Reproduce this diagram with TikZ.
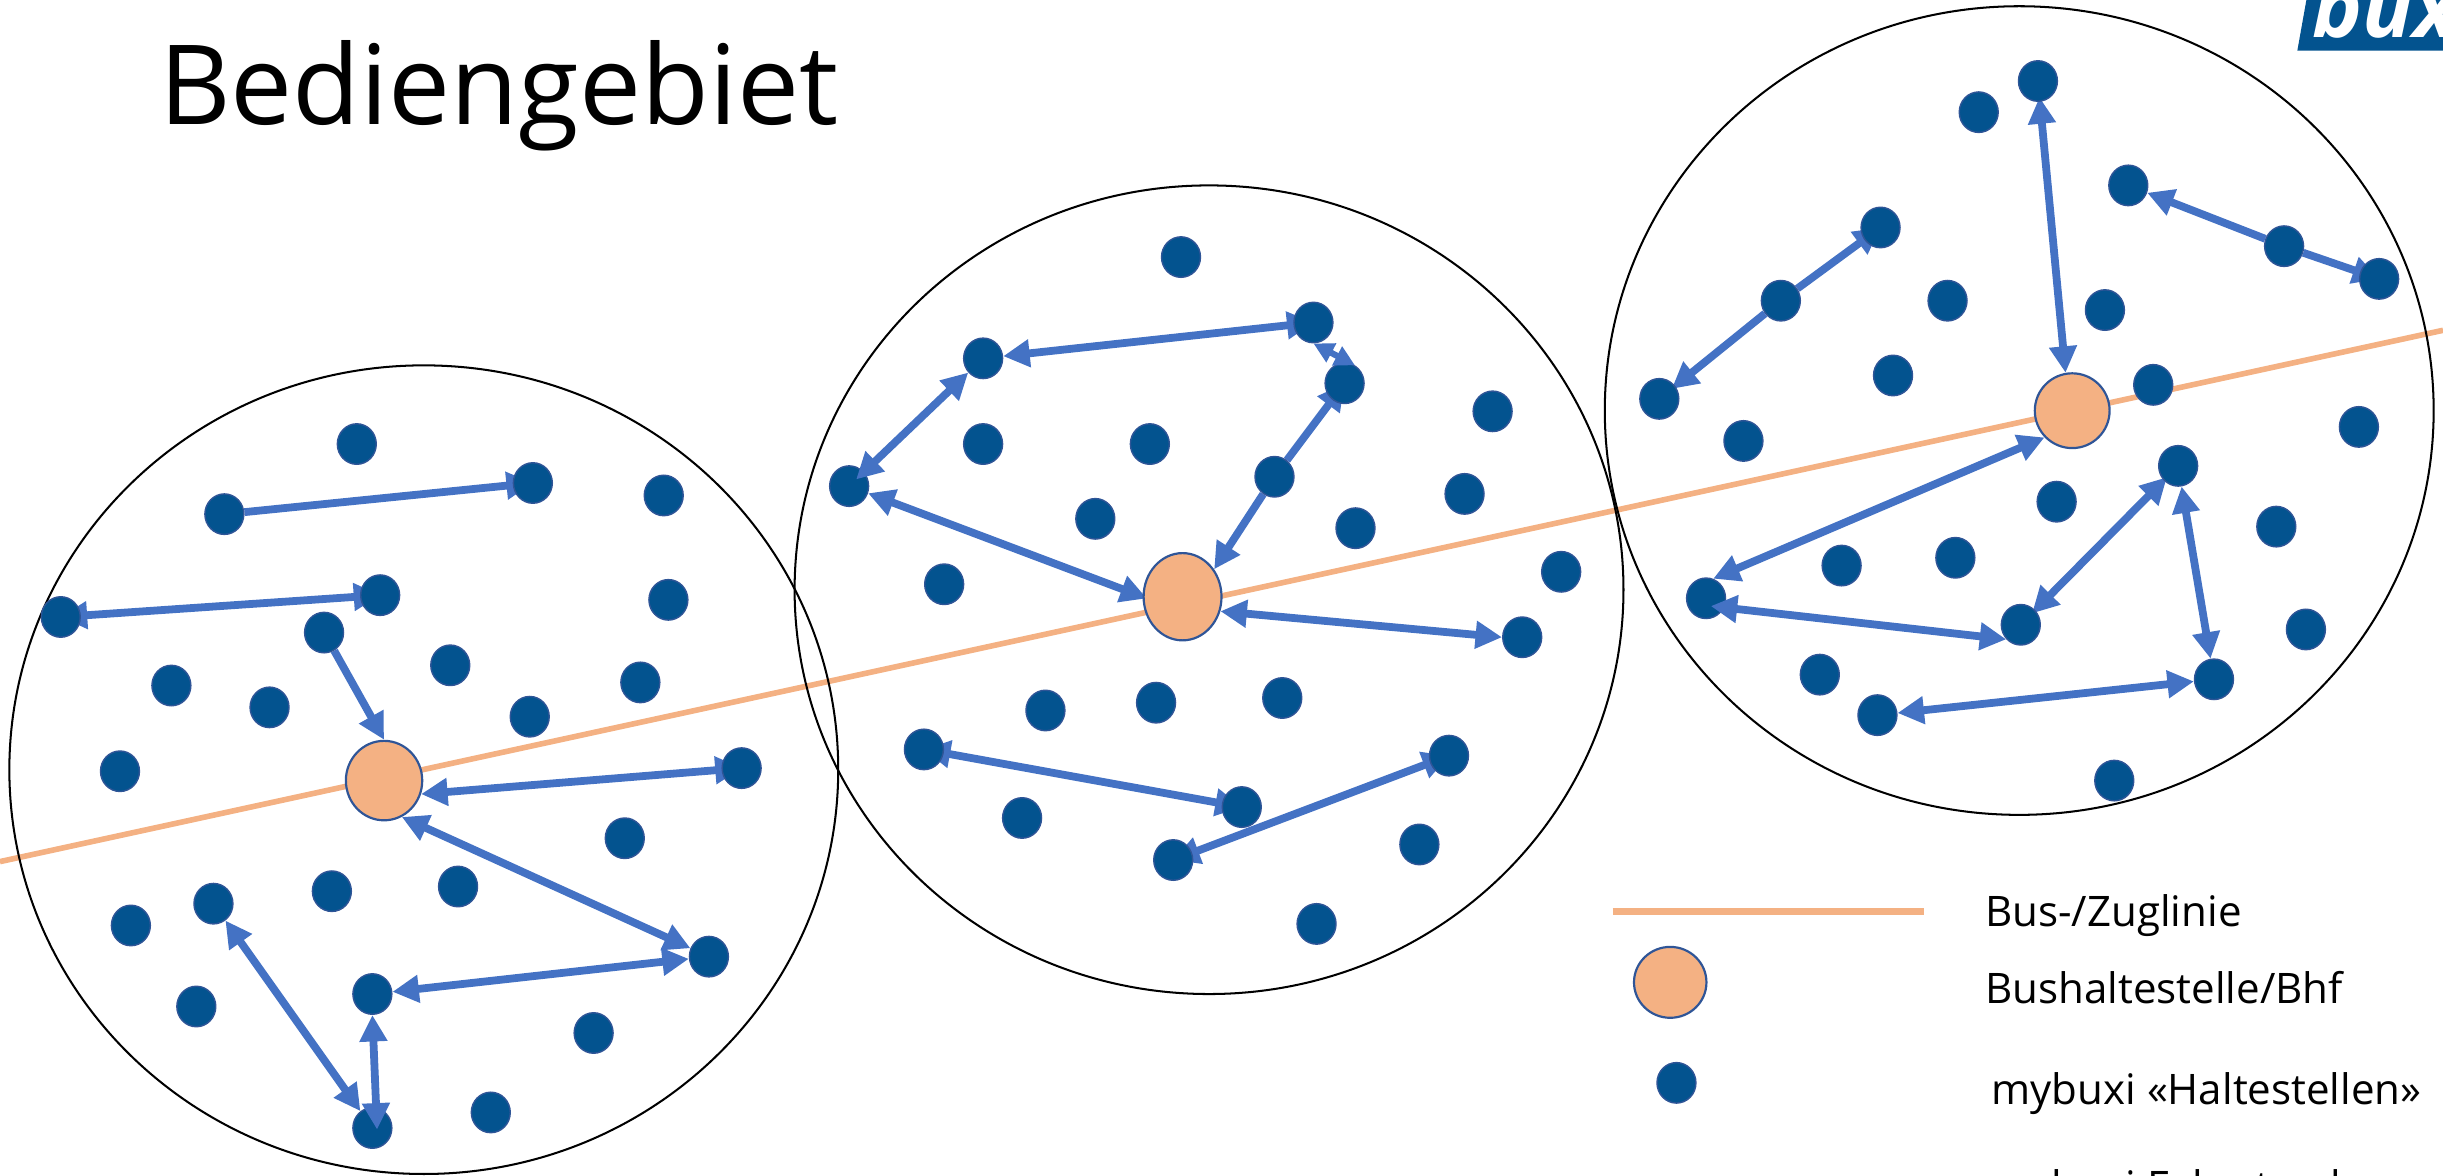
\documentclass[tikz,border=0pt]{standalone}
\usepackage{fontspec}
\setmainfont{Open Sans}
\usetikzlibrary{arrows.meta,shapes.geometric}
\definecolor{dotblue}{HTML}{03538F}
\definecolor{dotedge}{HTML}{2F5597}
\definecolor{arrowblue}{HTML}{4472C4}
\definecolor{stopfill}{HTML}{F4B183}
\pgfdeclarelayer{backdrop}
\pgfdeclarelayer{under}
\pgfsetlayers{backdrop,under,main}
\tikzset{
  x=1pt,y=-1pt,
  hdot/.style={ellipse,fill=dotblue,draw=dotedge,line width=.9pt,minimum width=25pt,minimum height=26pt,inner sep=0pt},
  stopnode/.style={ellipse,fill=stopfill,draw=dotedge,line width=1.4pt,inner sep=0pt},
  area/.style={draw=black,line width=1.3pt},
  rail/.style={draw=stopfill,line width=3.6pt},
  both/.style={draw=arrowblue,line width=5pt,{Triangle[length=17pt,width=17pt]}-{Triangle[length=17pt,width=17pt]}},
  shortboth/.style={draw=arrowblue,line width=4pt,{Triangle[length=13pt,width=13pt]}-{Triangle[length=13pt,width=13pt]}},
  oneway/.style={draw=arrowblue,line width=5pt,-{Triangle[length=17pt,width=17pt]}},
  sinkend/.style={shorten >=-13pt},
  sinkstart/.style={shorten <=-13pt},
  nudgeend/.style={shorten >=-3pt},
  nudgestart/.style={shorten <=-3pt},
  legend/.style={anchor=base west,font=\fontsize{27}{27}\selectfont,inner sep=0pt},
}
\begin{document}
\begin{tikzpicture}
\useasboundingbox (0,0) rectangle (1568,754.2);
\begin{pgfonlayer}{backdrop}
\coordinate (railA) at (0,553);
\coordinate (railB) at (1568,212);
\draw[rail] (railA) -- (railB);
\draw[area] (272,494) ellipse[x radius=266,y radius=259.5];
\draw[area] (776,378.5) ellipse[x radius=266,y radius=259.5];
\draw[area] (1296,263.5) ellipse[x radius=266,y radius=259.5];
\end{pgfonlayer}
% logo
\begin{scope}
\clip (0,0) rectangle (1568,754.2);
\fill[dotblue] (1480.3,0) -- (1474.5,32.5) -- (1568,32.5) -- (1568,0) -- cycle;
\node[text=white,anchor=base west,inner sep=0pt,font=\fontsize{54}{54}\selectfont\bfseries\itshape] (logo) at (1484,24) {buxi};
\end{scope}
% title
\node[anchor=base west,inner sep=0pt,font=\fontsize{71}{71}\selectfont] (title) at (102,80) {Bediengebiet};
% stops
\node[stopnode,minimum width=49pt,minimum height=51pt] (S1) at (246.5,501) {};
\node[stopnode,minimum width=50pt,minimum height=56pt] (S2) at (759,383) {};
\node[stopnode,minimum width=48pt,minimum height=48pt] (S3) at (1330,263.6) {};
% dots, area 1
\foreach \n/\x/\y in {a1/229/285,a2/144/330,a3/342/310,a4/426/318,a5/39/396,a6/244/382,a7/429/385,a8/208/406,a9/110/440,a10/173/454,a11/289/427,a12/340/460,a13/411/438,a14/77/495,a15/476/493,a16/401/538,a17/84/594,a18/137/580,a19/213/572,a20/294/569,a21/455/614,a22/126/646,a23/239/638,a24/381/663,a25/239/724,a26/315/714}
  \node[hdot] (\n) at (\x,\y) {};
% dots, area 2
\foreach \n/\x/\y in {b1/758/165,b2/843/207,b3/631/230,b4/863/246,b5/958/264,b6/631/285,b7/738/285,b8/545/312,b9/818/306,b10/940/317,b11/703/333,b12/870/339,b13/606/375,b14/1002/367,b15/977/409,b16/671/456,b17/742/451,b18/823/448,b19/593/481,b20/930/485,b21/797/518,b22/656/525,b23/753/552,b24/911/542,b25/845/593}
  \node[hdot] (\n) at (\x,\y) {};
% dots, area 3
\foreach \n/\x/\y in {c1/1308/52,c2/1270/72,c3/1366/119,c4/1207/146,c5/1466/158,c6/1527/179,c7/1143/193,c8/1250/193,c9/1351/199,c10/1215/241,c11/1382/247,c12/1065/256,c13/1119/283,c14/1514/274,c15/1398/299,c16/1320/322,c17/1461/338,c18/1182/363,c19/1255/358,c20/1095/384,c21/1297/401,c22/1480/404,c23/1168/433,c24/1421/436,c25/1205/459,c26/1357/501}
  \node[hdot] (\n) at (\x,\y) {};
% connectors whose ends lie behind the dots
\begin{pgfonlayer}{under}
% area 1
\draw[oneway,sinkend] (a2) -- (a3);
\draw[both,sinkstart,sinkend] (a6) -- (a5);
\draw[oneway] (a8) -- (S1.north);
\draw[both,sinkend] (S1.340) -- (a15);
\draw[both] (S1.-64) -- (a21);
\draw[both] (a23) -- (a21);
% area 2
\draw[both,sinkend] (b3) -- (b2);
\draw[oneway,sinkend] (b9) -- (b4);
\draw[oneway] (b9) -- (S2.41);
\draw[both,nudgestart] (S2.west) -- (b8);
\draw[both] (S2.-21) -- (b15.west);
\draw[both,sinkstart,sinkend] (b19) -- (b21);
\draw[both,sinkstart,sinkend] (b23) -- (b20);
% area 3
\draw[both,nudgestart] (c1) -- (S3.100);
\draw[oneway] (c5) -- (c3);
\draw[oneway,sinkend] (c5) -- (c6);
\draw[oneway,sinkend] (c7) -- (c4);
\draw[oneway,nudgeend] (c7) -- (c12);
\draw[both,nudgestart,nudgeend] (c21) -- (c15);
\draw[both] (c15) -- (c24);
\draw[both] (c24) -- (c25);
\end{pgfonlayer}
% connectors whose tips lie over the dots
\draw[both] (a23.south) -- ([xshift=3pt,yshift=-1pt]a25.center);
\draw[both] (a18) -- (a25);
\draw[both,shorten >=-7pt] (b3) -- (b8);
\draw[shortboth] (b2.south) -- (b4.60);
\draw[both] (S3.224) -- (c20.70);
\draw[both] ([xshift=3pt,yshift=-5pt]c20.center) -- (c21.225);
% legend
\coordinate (lgA) at (1035,584.8);
\coordinate (lgB) at (1235,584.8);
\draw[rail,line width=4.5pt] (lgA) -- (lgB);
\node[stopnode,minimum width=46.5pt,minimum height=45.5pt] (lgS) at (1072,630.5) {};
\node[hdot] (lgD) at (1076,695) {};
\node[legend] (t1) at (1274,594.8) {Bus-/Zuglinie};
\node[legend] (t2) at (1274,644) {Bushaltestelle/Bhf};
\node[legend] (t3) at (1278,709) {mybuxi «Haltestellen»};
\begin{scope}
\clip (0,0) rectangle (1568,754.2);
\node[legend] (t4) at (1278,771) {mybuxi Fahrstrecke};
\end{scope}
\end{tikzpicture}
\end{document}
